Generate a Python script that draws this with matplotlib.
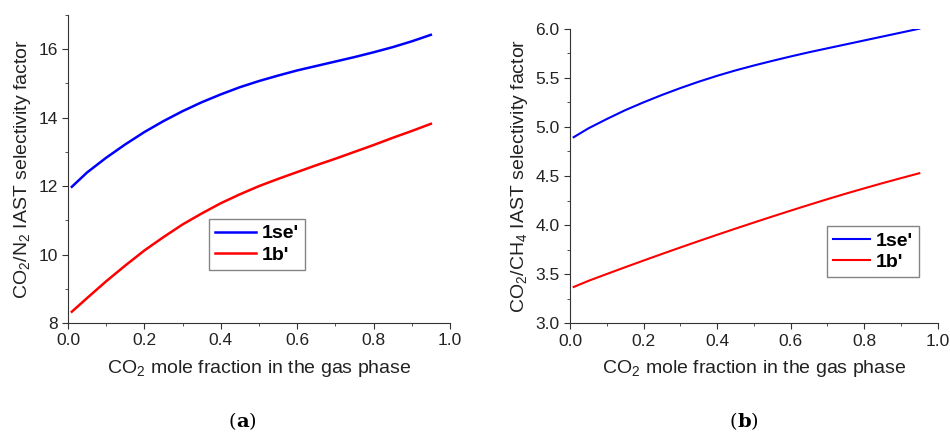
import numpy as np
import matplotlib
matplotlib.use('Agg')
import matplotlib.pyplot as plt
from matplotlib.ticker import MultipleLocator

plt.rcParams['font.family'] = ['Liberation Sans', 'DejaVu Sans']
plt.rcParams['mathtext.fontset'] = 'custom'
plt.rcParams['mathtext.rm'] = 'Liberation Sans'

# CO2 mole fraction in the gas phase
x = [0.01, 0.05, 0.1, 0.15, 0.2, 0.25, 0.3, 0.35, 0.4, 0.45, 0.5,
     0.55, 0.6, 0.65, 0.7, 0.75, 0.8, 0.85, 0.9, 0.95]

# (a) CO2/N2 selectivity
n2_1se = [11.98, 12.4, 12.83, 13.22, 13.58, 13.9, 14.19, 14.45, 14.68, 14.89, 15.07,
          15.23, 15.38, 15.51, 15.64, 15.77, 15.91, 16.06, 16.23, 16.42]
n2_1b = [8.33, 8.73, 9.22, 9.68, 10.12, 10.51, 10.88, 11.2, 11.5, 11.76, 12.0,
         12.21, 12.41, 12.61, 12.8, 13.0, 13.2, 13.41, 13.61, 13.82]

# (b) CO2/CH4 selectivity
ch4_1se = [4.895, 4.985, 5.08, 5.17, 5.25, 5.325, 5.395, 5.46, 5.52, 5.575, 5.625,
           5.672, 5.717, 5.76, 5.80, 5.84, 5.88, 5.92, 5.96, 6.0]
ch4_1b = [3.37, 3.432, 3.502, 3.571, 3.639, 3.706, 3.772, 3.837, 3.901, 3.964, 4.026,
          4.087, 4.147, 4.206, 4.264, 4.32, 4.374, 4.427, 4.478, 4.528]

xticks = [0.0, 0.2, 0.4, 0.6, 0.8, 1.0]
xlabels = ['0.0', '0.2', '0.4', '0.6', '0.8', '1.0']

fig = plt.figure(figsize=(9.5, 4.32), dpi=100)
ax1 = fig.add_axes([0.0716, 0.2523, 0.402, 0.713])
ax2 = fig.add_axes([0.600, 0.2516, 0.387, 0.682])


def style(ax):
    ax.spines['top'].set_visible(False)
    ax.spines['right'].set_visible(False)
    for s in ['left', 'bottom']:
        ax.spines[s].set_color('#333333')
    ax.tick_params(which='both', direction='out', labelsize=12.5, color='#333333',
                   labelcolor='#222222')
    ax.tick_params(which='major', length=4)
    ax.tick_params(which='minor', length=2.5)
    ax.set_xlim(0, 1.0)
    ax.set_xticks(xticks)
    ax.set_xticklabels(xlabels)
    ax.xaxis.set_minor_locator(MultipleLocator(0.1))
    ax.set_xlabel('CO$_2$ mole fraction in the gas phase', fontsize=14,
                  labelpad=7, color='#222222')


ax1.plot(x, n2_1se, color='blue', lw=1.8, label="1se'")
ax1.plot(x, n2_1b, color='red', lw=1.8, label="1b'")
ax1.set_ylim(8, 17)
ax1.set_yticks([8, 10, 12, 14, 16])
ax1.yaxis.set_minor_locator(MultipleLocator(1))
ax1.set_ylabel('CO$_2$/N$_2$ IAST selectivity factor', fontsize=14, color='#222222')
style(ax1)
leg1 = ax1.legend(loc='upper left', bbox_to_anchor=(0.37, 0.338), fancybox=False,
                  prop={'weight': 'bold', 'size': 14}, handlelength=2.1,
                  borderpad=0.3, labelspacing=0.2, handletextpad=0.3,
                  borderaxespad=0)
leg1.get_frame().set_edgecolor('#666666')
leg1.get_frame().set_linewidth(1.0)

ax2.plot(x, ch4_1se, color='blue', lw=1.5, label="1se'")
ax2.plot(x, ch4_1b, color='red', lw=1.5, label="1b'")
ax2.set_ylim(3.0, 6.0)
ax2.set_yticks([3.0, 3.5, 4.0, 4.5, 5.0, 5.5, 6.0])
ax2.set_yticklabels(['3.0', '3.5', '4.0', '4.5', '5.0', '5.5', '6.0'])
ax2.yaxis.set_minor_locator(MultipleLocator(0.25))
ax2.set_ylabel('CO$_2$/CH$_4$ IAST selectivity factor', fontsize=14, color='#222222')
style(ax2)
leg2 = ax2.legend(loc='upper left', bbox_to_anchor=(0.70, 0.33), fancybox=False,
                  prop={'weight': 'bold', 'size': 14}, handlelength=1.9,
                  borderpad=0.3, labelspacing=0.2, handletextpad=0.3,
                  borderaxespad=0)
leg2.get_frame().set_edgecolor('#666666')
leg2.get_frame().set_linewidth(1.0)

fig.text(0.249, 0.012, '(', family='DejaVu Serif', fontsize=14, ha='right')
fig.text(0.249, 0.012, 'a', family='DejaVu Serif', fontsize=14, weight='bold', ha='left')
fig.text(0.262, 0.012, ')', family='DejaVu Serif', fontsize=14, ha='left')
fig.text(0.776, 0.012, '(', family='DejaVu Serif', fontsize=14, ha='right')
fig.text(0.776, 0.012, 'b', family='DejaVu Serif', fontsize=14, weight='bold', ha='left')
fig.text(0.790, 0.012, ')', family='DejaVu Serif', fontsize=14, ha='left')

fig.savefig('out.png', dpi=100)
